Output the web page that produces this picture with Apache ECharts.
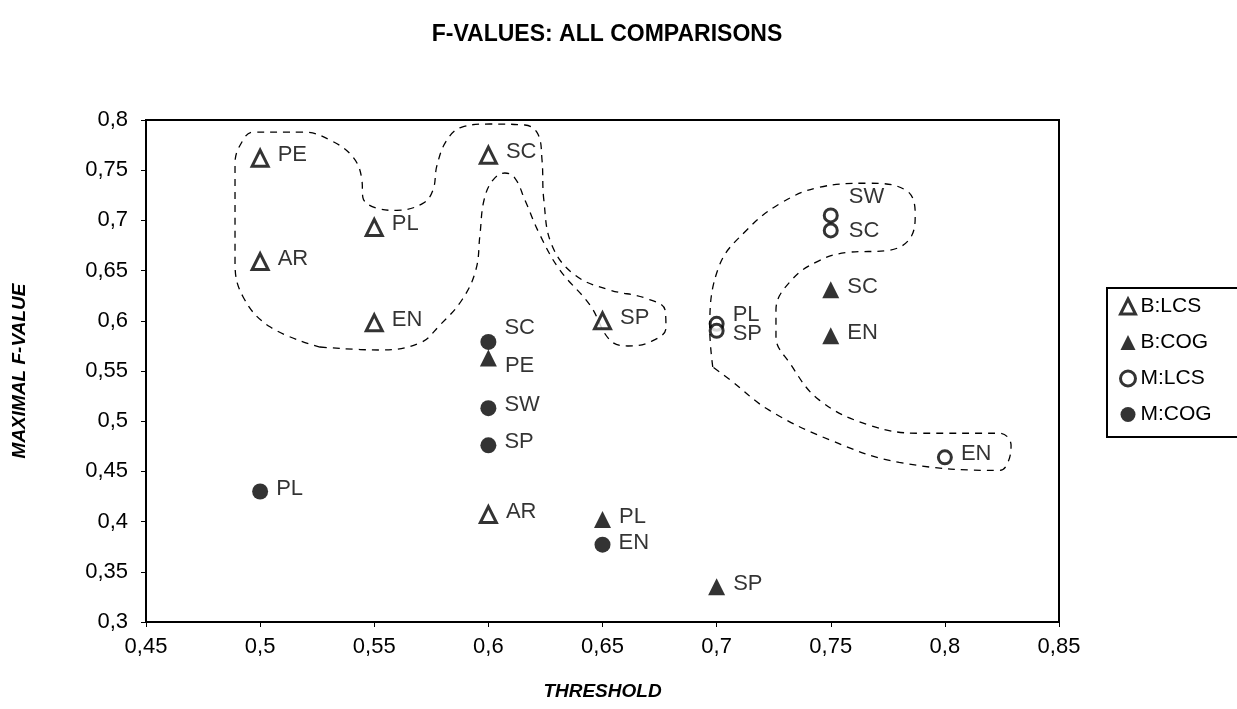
<!DOCTYPE html>
<html><head><meta charset="utf-8">
<script src="https://cdn.jsdelivr.net/npm/echarts@6/dist/echarts.min.js"></script>
<style>html,body{margin:0;padding:0;background:#fff}#c{width:1237px;height:709px}</style>
</head><body><div id="c"></div>
<script>
// ---- data ----
var seriesNames = ['B:LCS', 'B:COG', 'M:LCS', 'M:COG'];
var bLCS = [[0.5, 0.762, 'PE'], [0.5, 0.659, 'AR'], [0.55, 0.693, 'PL'], [0.55, 0.598, 'EN'], [0.6, 0.765, 'SC'], [0.65, 0.600, 'SP'], [0.6, 0.407, 'AR']];
var bCOG = [[0.6, 0.563, 'PE'], [0.65, 0.402, 'PL'], [0.7, 0.335, 'SP'], [0.75, 0.631, 'SC'], [0.75, 0.585, 'EN']];
var mLCS = [[0.75, 0.705, 'SW'], [0.75, 0.690, 'SC'], [0.7, 0.597, 'PL'], [0.7, 0.590, 'SP'], [0.8, 0.464, 'EN']];
var mCOG = [[0.6, 0.579, 'SC'], [0.6, 0.513, 'SW'], [0.6, 0.476, 'SP'], [0.5, 0.430, 'PL'], [0.65, 0.377, 'EN']];
// hand-drawn dashed grouping outlines (data coordinates)
var loopLeft = [[0.5262,0.5739],[0.5525,0.5709],[0.5700,0.5779],[0.5788,0.5958],[0.5884,0.6207],[0.5945,0.6506],[0.5963,0.6855],[0.5981,0.7203],[0.6020,0.7402],[0.6072,0.7472],[0.6116,0.7422],[0.6160,0.7203],[0.6226,0.6855],[0.6313,0.6506],[0.6445,0.6157],[0.6532,0.5809],[0.6611,0.5749],[0.6708,0.5789],[0.6778,0.5928],[0.6774,0.6108],[0.6686,0.6227],[0.6532,0.6307],[0.6379,0.6456],[0.6278,0.6755],[0.6243,0.7203],[0.6235,0.7602],[0.6217,0.7860],[0.6160,0.7950],[0.6007,0.7960],[0.5884,0.7930],[0.5818,0.7800],[0.5775,0.7550],[0.5757,0.7300],[0.5713,0.7170],[0.5599,0.7100],[0.5512,0.7120],[0.5450,0.7230],[0.5446,0.7400],[0.5407,0.7630],[0.5306,0.7800],[0.5188,0.7880],[0.4969,0.7880],[0.4925,0.7800],[0.4890,0.7570],[0.4890,0.6580],[0.4925,0.6240],[0.5043,0.5940],[0.5262,0.5739]];
var loopRight = [[0.6983,0.554],[0.697,0.591],[0.701,0.654],[0.713,0.690],[0.728,0.717],[0.745,0.733],[0.766,0.737],[0.783,0.730],[0.787,0.707],[0.785,0.683],[0.775,0.670],[0.757,0.668],[0.745,0.660],[0.733,0.641],[0.726,0.611],[0.726,0.584],[0.732,0.558],[0.745,0.521],[0.767,0.496],[0.789,0.488],[0.824,0.488],[0.829,0.476],[0.8276,0.459],[0.824,0.451],[0.780,0.459],[0.750,0.481],[0.723,0.511],[0.706,0.541],[0.6983,0.554]];

// ---- styles ----
var FONT = 'Liberation Sans, Arial, sans-serif';
var labelOffsets = {
  'B:COG|PE': [0, 8], 'M:COG|SC': [0, -14],
  'M:LCS|SW': [2, -18], 'M:LCS|SC': [2, 0],
  'M:LCS|PL': [0, -9], 'M:LCS|SP': [0, 3],
  'B:COG|PL': [0, -3], 'M:COG|EN': [0, -2]
};
function fmt(v) { return String(Math.round(v * 100) / 100).replace('.', ','); }
function pts(arr, sname) {
  return arr.map(function (d) {
    var o = labelOffsets[sname + '|' + d[2]] || [0, -3];
    return { value: [d[0], d[1]], name: d[2], label: { offset: o } };
  });
}
var baseLabel = { show: true, position: 'right', distance: 8, formatter: '{b}', color: '#000', fontSize: 22, fontFamily: FONT };
function scatter(name, data, symbol, size, filled) {
  return {
    name: name, type: 'scatter', symbol: symbol, symbolSize: size, z: 5,
    itemStyle: filled ? { color: '#000' } : { color: '#fff', borderColor: '#000', borderWidth: 3 },
    label: baseLabel, data: pts(data, name)
  };
}
function loop(data) {
  return { type: 'line', data: data, smooth: 0.4, symbol: 'none', silent: true, z: 2,
    lineStyle: { color: '#000', width: 1.3, type: [7, 6] } };
}

var chart = echarts.init(document.getElementById('c'));
chart.setOption({
  animation: false,
  backgroundColor: '#fff',
  title: { text: 'F-VALUES: ALL COMPARISONS', left: 602, top: 18, textAlign: 'center',
    textStyle: { fontFamily: FONT, fontWeight: 'bold', fontSize: 23, color: '#000' } },
  grid: { left: 146, right: 178, top: 120, bottom: 87, show: true, borderColor: '#000', borderWidth: 2,
    containLabel: false, outerBoundsMode: 'none' },
  legend: {
    data: seriesNames.map(function (n) { return { name: n }; }),
    orient: 'vertical', left: 1107, top: 288, itemGap: 15, itemWidth: 15, itemHeight: 15, itemStyle: { borderWidth: 3 },
    borderColor: '#000', borderWidth: 2, padding: [8, 30, 12, 12],
    textStyle: { fontFamily: FONT, fontSize: 21, color: '#000' }
  },
  xAxis: {
    type: 'value', min: 0.45, max: 0.85, interval: 0.05,
    name: 'THRESHOLD', nameLocation: 'middle', nameGap: 60,
    nameTextStyle: { fontFamily: FONT, fontStyle: 'italic', fontWeight: 'bold', fontSize: 19, color: '#000' },
    axisLine: { lineStyle: { color: '#000', width: 2 } },
    axisTick: { show: true, length: 5, lineStyle: { color: '#000' } },
    axisLabel: { formatter: fmt, fontFamily: FONT, fontSize: 22, color: '#000', margin: 14 },
    splitLine: { show: false }
  },
  yAxis: {
    type: 'value', min: 0.3, max: 0.8, interval: 0.05,
    name: 'MAXIMAL F-VALUE', nameLocation: 'middle', nameGap: 117, nameRotate: 90,
    nameTextStyle: { fontFamily: FONT, fontStyle: 'italic', fontWeight: 'bold', fontSize: 19, color: '#000' },
    axisLine: { lineStyle: { color: '#000', width: 2 } },
    axisTick: { show: true, length: 5, lineStyle: { color: '#000' } },
    axisLabel: { formatter: fmt, fontFamily: FONT, fontSize: 22, color: '#000', margin: 18 },
    splitLine: { show: false }
  },
  series: [
    loop(loopLeft), loop(loopRight),
    scatter('B:LCS', bLCS, 'triangle', 16, false),
    scatter('B:COG', bCOG, 'triangle', 17, true),
    scatter('M:LCS', mLCS, 'circle', 13, false),
    scatter('M:COG', mCOG, 'circle', 16, true)
  ]
});
</script></body></html>
